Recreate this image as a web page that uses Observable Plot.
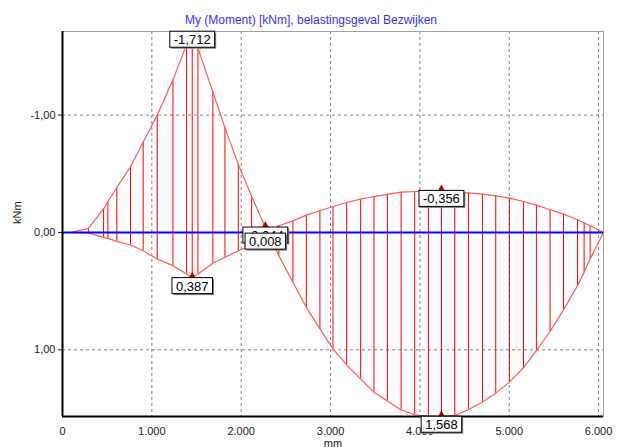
<!DOCTYPE html>
<html><head><meta charset="utf-8">
<script src="https://cdn.jsdelivr.net/npm/d3@7"></script>
<script src="https://cdn.jsdelivr.net/npm/@observablehq/plot@0.6"></script>
<style>body{margin:0;background:#fff} svg{display:block}</style>
</head><body><div id="chart"></div>
<script>
const title = "My (Moment) [kNm], belastingsgeval Bezwijken";
const xLabel = "mm";
const yLabel = "kNm";
const positions = [100, 290, 460, 508, 608, 761, 903, 1060, 1236, 1389, 1452, 1516, 1683, 1818, 1967, 2117, 2270, 2422, 2579, 2729, 2881, 3027, 3180, 3337, 3486, 3636, 3790, 3942, 4095, 4241, 4390, 4543, 4700, 4849, 5002, 5159, 5304, 5457, 5607, 5764, 5838, 5905, 6055];
const momentA = [0, -0.035, -0.20, -0.264, -0.383, -0.559, -0.771, -0.998, -1.30, -1.60, -1.712, -1.57, -1.196, -0.893, -0.581, -0.306, -0.044, 0.198, 0.425, 0.638, 0.822, 0.992, 1.128, 1.247, 1.361, 1.436, 1.512, 1.553, 1.566, 1.568, 1.559, 1.510, 1.445, 1.369, 1.275, 1.153, 1.006, 0.844, 0.660, 0.453, 0.340, 0.226, 0];
const momentB = [0, 0.003, 0.042, 0.051, 0.076, 0.107, 0.156, 0.227, 0.283, 0.354, 0.387, 0.354, 0.263, 0.212, 0.156, 0.107, 0.008, -0.057, -0.099, -0.148, -0.185, -0.221, -0.255, -0.284, -0.306, -0.324, -0.343, -0.349, -0.353, -0.356, -0.343, -0.337, -0.326, -0.312, -0.292, -0.264, -0.233, -0.193, -0.156, -0.108, -0.080, -0.057, 0];
const xTicks = [0, 1000, 2000, 3000, 4000, 5000, 6000];
const yTicks = [-1, 0, 1];
const xDomain = [0, 6055];
const yDomain = [-1.712, 1.568];
const labelX = [1452, 1452, 2270, 2270, 4241, 4241];
const labelY = [-1.712, 0.387, -0.044, 0.008, -0.356, 1.568];
const labelText = ["-1,712", "0,387", "-0,044", "0,008", "-0,356", "1,568"];
const markerIdx = [1, 2, 4, 5];

const rows = positions.map((x, i) => ({x, a: momentA[i], b: momentB[i]}));
const labels = labelX.map((x, i) => ({x, y: labelY[i], t: labelText[i]}));
const markers = markerIdx.map(i => labels[i]);

const fmtX = d => d === 0 ? "0" : d3.format(",")(d).replace(/,/g, ".");
const fmtY = d => d.toFixed(2).replace(".", ",");

const plot = Plot.plot({
  width: 621, height: 448,
  marginTop: 31, marginBottom: 32, marginLeft: 62, marginRight: 18,
  style: {fontFamily: "'Liberation Sans', Arial, sans-serif", fontSize: "11px", color: "#202020", background: "#fff"},
  x: {domain: xDomain, ticks: xTicks, tickFormat: fmtX, tickSize: 0, tickPadding: 11, label: null},
  y: {domain: yDomain, reverse: true, ticks: yTicks, tickFormat: fmtY, tickSize: 4, tickPadding: 3, label: null},
  marks: [
    Plot.ruleX(xTicks.slice(1), {stroke: "#808080", strokeDasharray: "3,3"}),
    Plot.ruleY(yTicks, {stroke: "#808080", strokeDasharray: "3,3"}),
    Plot.frame({stroke: "#a0a0a0"}),
    Plot.ruleX(rows, {x: "x", y1: "a", y2: "b", stroke: "#ff0000", strokeWidth: 1}),
    Plot.line(rows, {x: "x", y: "a", stroke: "#ff5a5a", strokeWidth: 1.2}),
    Plot.line(rows, {x: "x", y: "b", stroke: "#ff5a5a", strokeWidth: 1.2}),
    Plot.ruleY([0], {stroke: "#0000ff", strokeWidth: 2}),
    Plot.ruleX([xDomain[0]], {stroke: "#000", strokeWidth: 2}),
    Plot.ruleY([yDomain[1]], {stroke: "#000", strokeWidth: 2}),
    Plot.dot(markers, {x: "x", y: "y", symbol: "triangle", r: 2.6, fill: "#b00000", stroke: "none", dy: -2}),
    Plot.text(labels, {x: "x", y: "y", text: "t", lineAnchor: "top", dy: 3.5, fontSize: 13, fill: "#000"}),
    Plot.text([title], {frameAnchor: "top", dy: -16, dx: -22, fill: "#3333ff", fontSize: 12}),
    Plot.text([yLabel], {frameAnchor: "left", dx: -45, rotate: -90, fontSize: 11, fill: "#202020"}),
    Plot.text([xLabel], {frameAnchor: "bottom", dy: 30, fontSize: 11, fill: "#202020"})
  ]
});
document.getElementById("chart").append(plot);

const labelSet = new Set(labelText);
plot.querySelectorAll('g[aria-label="text"] text').forEach(t => {
  if (!labelSet.has(t.textContent)) return;
  const b = t.getBBox();
  const ns = "http://www.w3.org/2000/svg";
  const tr = t.getAttribute("transform");
  const sh = document.createElementNS(ns, "rect");
  sh.setAttribute("x", b.x - 4 + 1.5); sh.setAttribute("y", b.y - 1 + 1.5);
  sh.setAttribute("width", b.width + 8); sh.setAttribute("height", b.height + 1);
  sh.setAttribute("fill", "#808080");
  const r = document.createElementNS(ns, "rect");
  r.setAttribute("x", b.x - 4); r.setAttribute("y", b.y - 1);
  r.setAttribute("width", b.width + 8); r.setAttribute("height", b.height + 1);
  r.setAttribute("fill", "#fff"); r.setAttribute("stroke", "#000"); r.setAttribute("stroke-width", 1);
  if (tr) { sh.setAttribute("transform", tr); r.setAttribute("transform", tr); }
  t.parentNode.insertBefore(sh, t);
  t.parentNode.insertBefore(r, t);
});
</script>
</body></html>
